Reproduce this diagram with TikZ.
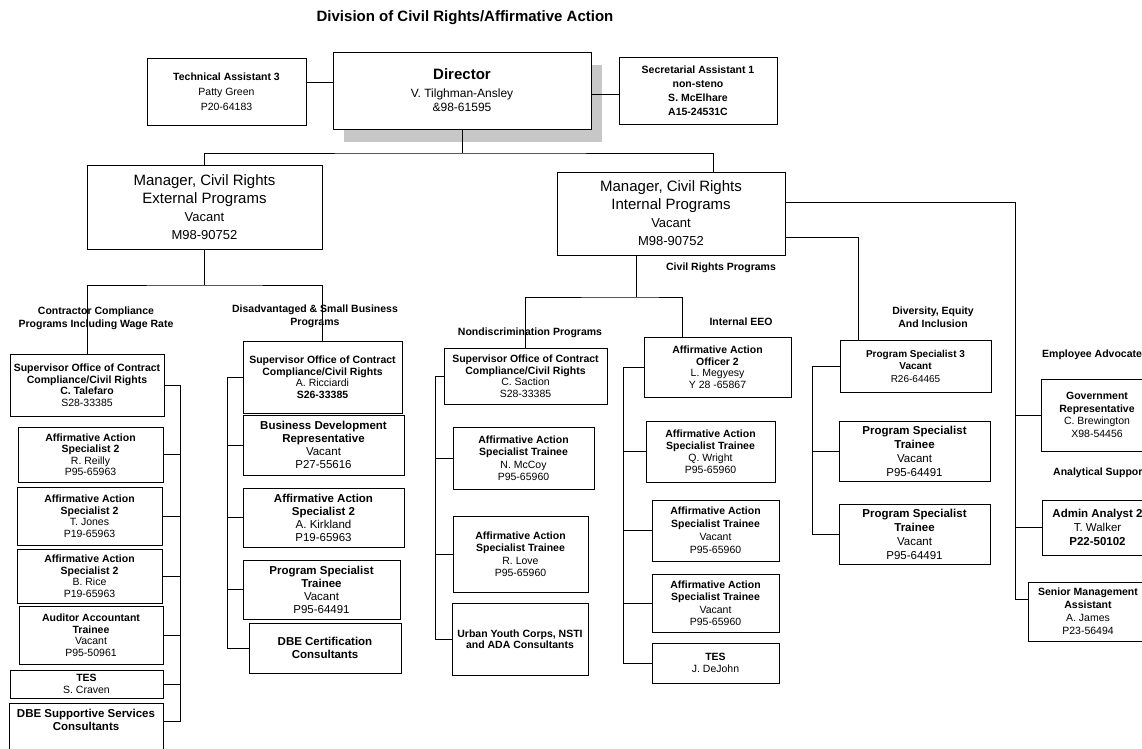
\documentclass[tikz,border=0pt]{standalone}
\usepackage{fontspec}
\setmainfont{Liberation Sans}
\usepackage{tikz}
\usetikzlibrary{positioning}
\usetikzlibrary{shapes,shadows}
\tikzstyle{block} = [rectangle, draw, fill=white, align=center, inner sep=2pt,
line width=0.9pt, font=\fontsize{10.5}{11.5}\selectfont\bfseries]
\tikzstyle{bigblock} = [block, font=\fontsize{11.5}{13}\selectfont\bfseries]
\tikzstyle{grouptitle} = [align=center, inner sep=0pt, font=\fontsize{10.5}{13}\selectfont\bfseries]
\tikzstyle{line} = [draw, line width=0.8pt]
\tikzset{boxsize/.style 2 args={minimum width=#1pt, minimum height=#2pt}}

\begin{document}
\begin{tikzpicture}[x=1pt, y=-1pt]
    \useasboundingbox (0,0) rectangle (1142,748);
    % nodes
    \node [grouptitle, font=\fontsize{15}{18}\selectfont\bfseries] (title) at (465,18) {Division of Civil Rights/Affirmative Action};
    \node [block, boxsize={159}{67}, font=\fontsize{10.5}{15}\selectfont] (tecasst) at (226.5,91.5) {\textbf{Technical Assistant 3}\\Patty Green\\P20-64183};
    \node [block, boxsize={258}{77}, font=\fontsize{12}{14}\selectfont,
      drop shadow={shadow xshift=11pt, shadow yshift=-13pt, fill=black!22, opacity=1}] (director) at (462,90.5)
      {{\fontsize{15}{17}\selectfont\bfseries Director}\\[4pt]V. Tilghman-Ansley\\\&98-61595};
    \node [block, boxsize={158}{67}, font=\fontsize{10.5}{14}\selectfont\bfseries] (secasst) at (698,90.5) {Secretarial Assistant 1\\non-steno\\S. McElhare\\A15-24531C};
    \node [block, boxsize={235}{84}, font=\fontsize{15}{18}\selectfont] (mgrext) at (204.5,207) {Manager, Civil Rights\\External Programs\\{\fontsize{13}{18}\selectfont Vacant}\\{\fontsize{13}{18}\selectfont M98-90752}};
    \node [block, boxsize={228}{83}, font=\fontsize{15}{18}\selectfont] (mgrint) at (671,213.5) {Manager, Civil Rights\\Internal Programs\\{\fontsize{13}{18}\selectfont Vacant}\\{\fontsize{13}{18}\selectfont M98-90752}};

    % group titles
    \node [grouptitle] (ccp) at (96,318) {Contractor Compliance\\Programs Including Wage Rate};
    \node [grouptitle] (dsbp) at (315,316) {Disadvantaged \& Small Business\\Programs};
    \node [grouptitle] (ndp) at (530,333) {Nondiscrimination Programs};
    \node [grouptitle] (crp) at (721,268) {Civil Rights Programs};
    \node [grouptitle] (ieeo) at (741,322) {Internal EEO};
    \node [grouptitle] (dei) at (933,317) {Diversity, Equity\\And Inclusion};
    \node [grouptitle, anchor=west] (empadv) at (1042,355) {Employee Advocate};
    \node [grouptitle, anchor=west] (analsup) at (1053,473) {Analytical Support};

    % contractor compliance
    \node [block, boxsize={154}{62}] (supcc) at (87,385) {Supervisor Office of Contract\\Compliance/Civil Rights\\C. Talefaro\\\textmd{S28-33385}};
    \node [block, boxsize={145}{55}] (reilly) at (90.5,454.5) {Affirmative Action\\Specialist 2\\\textmd{R. Reilly}\\\textmd{P95-65963}};
    \node [block, boxsize={145}{58}] (jones) at (89.5,516) {Affirmative Action\\Specialist 2\\\textmd{T. Jones}\\\textmd{P19-65963}};
    \node [block, boxsize={145}{54}] (rice) at (89.5,576) {Affirmative Action\\Specialist 2\\\textmd{B. Rice}\\\textmd{P19-65963}};
    \node [block, boxsize={144}{58}] (auditor) at (91,635) {Auditor Accountant\\Trainee\\\textmd{Vacant}\\\textmd{P95-50961}};
    \node [block, boxsize={153}{28}] (craven) at (86.5,684) {TES\\\textmd{S. Craven}};
    \node [bigblock, boxsize={154}{46}] (dbess) at (86,726) {DBE Supportive Services\\Consultants\\\mbox{}};

    % disadvantaged & small business
    \node [block, boxsize={159}{72}] (supdbe) at (322.5,377) {Supervisor Office of Contract\\Compliance/Civil Rights\\\textmd{A. Ricciardi}\\S26-33385};
    \node [bigblock, boxsize={161}{60}] (bizdev) at (323.5,445) {Business Development\\Representative\\\textmd{Vacant}\\\textmd{P27-55616}};
    \node [bigblock, boxsize={161}{59}] (kirkland) at (323.5,517.5) {Affirmative Action\\Specialist 2\\\textmd{A. Kirkland}\\\textmd{P19-65963}};
    \node [bigblock, boxsize={157}{59}] (pstdbe) at (321.5,589.5) {Program Specialist\\Trainee\\\textmd{Vacant}\\\textmd{P95-64491}};
    \node [bigblock, boxsize={152}{50}] (dbecert) at (325,648) {DBE Certification\\Consultants};

    % nondiscrimination
    \node [block, boxsize={163}{56}] (supnd) at (525.5,376) {Supervisor Office of Contract\\Compliance/Civil Rights\\\textmd{C. Saction}\\\textmd{S28-33385}};
    \node [block, boxsize={141}{62}, font=\fontsize{10.5}{12.5}\selectfont\bfseries] (mccoy) at (523.5,458) {Affirmative Action\\Specialist Trainee\\\textmd{N. McCoy}\\\textmd{P95-65960}};
    \node [block, boxsize={135}{76}, font=\fontsize{10.5}{12.5}\selectfont\bfseries] (love) at (520.5,554) {Affirmative Action\\Specialist Trainee\\\textmd{R. Love}\\\textmd{P95-65960}};
    \node [block, boxsize={136}{72}] (urban) at (520,639) {Urban Youth Corps, NSTI\\and ADA Consultants};

    % internal EEO
    \node [block, boxsize={147}{60}] (officer) at (717.5,367) {Affirmative Action\\Officer 2\\\textmd{L. Megyesy}\\\textmd{Y 28 -65867}};
    \node [block, boxsize={129}{61}, font=\fontsize{10.5}{12}\selectfont\bfseries] (wright) at (710.5,451.5) {Affirmative Action\\Specialist Trainee\\\textmd{Q. Wright}\\\textmd{P95-65960}};
    \node [block, boxsize={127}{61}, font=\fontsize{10.5}{13}\selectfont\bfseries] (aastv1) at (715.5,530.5) {Affirmative Action\\Specialist Trainee\\\textmd{Vacant}\\\textmd{P95-65960}};
    \node [block, boxsize={127}{58}, font=\fontsize{10.5}{12.5}\selectfont\bfseries] (aastv2) at (715.5,603) {Affirmative Action\\Specialist Trainee\\\textmd{Vacant}\\\textmd{P95-65960}};
    \node [block, boxsize={127}{40}] (dejohn) at (715.5,663) {TES\\\textmd{J. DeJohn}};

    % diversity, equity and inclusion
    \node [block, boxsize={151}{52}, font=\fontsize{10}{12.5}\selectfont\bfseries] (ps3) at (915.5,366) {Program Specialist 3\\Vacant\\\textmd{R26-64465}};
    \node [block, boxsize={151}{60}, font=\fontsize{11.5}{14}\selectfont\bfseries] (pst1) at (914.5,451) {Program Specialist\\Trainee\\\textmd{Vacant}\\\textmd{P95-64491}};
    \node [block, boxsize={151}{60}, font=\fontsize{11.5}{14}\selectfont\bfseries] (pst2) at (914.5,534) {Program Specialist\\Trainee\\\textmd{Vacant}\\\textmd{P95-64491}};

    % employee advocate, analytical support
    \node [block, boxsize={112}{72}, font=\fontsize{10.5}{12.5}\selectfont\bfseries] (govrep) at (1097,415) {Government\\Representative\\\textmd{C. Brewington}\\\textmd{X98-54456}};
    \node [block, boxsize={111}{55}, font=\fontsize{11.5}{14}\selectfont\bfseries] (admin) at (1097.5,527.5) {Admin Analyst 2\\\textmd{T. Walker}\\P22-50102};
    \node [block, boxsize={120}{59}, font=\fontsize{10.5}{13}\selectfont\bfseries] (sma) at (1088,611.5) {Senior Management\\Assistant\\\textmd{A. James}\\\textmd{P23-56494}};

    % junctions
    \coordinate (t1) at ([yshift=9.5pt]tecasst.east);
    \coordinate (s1) at ([yshift=-3.5pt]secasst.west);
    \coordinate (top) at (462,153);
    \coordinate (i1) at ([xshift=42pt]mgrint.north);
    \coordinate (ebus) at (204.5,285);
    \coordinate (cb) at (180,385);
    \coordinate (db) at (227,377);
    \coordinate (cr) at ([xshift=-35pt]mgrint.south);
    \coordinate (crj) at (636,297);
    \coordinate (o1) at ([xshift=-35.5pt]officer.north);
    \coordinate (nb) at (435,376);
    \coordinate (eb) at (623,367);
    \coordinate (dv0) at ([yshift=-23.5pt]mgrint.east);
    \coordinate (v0) at ([xshift=-57.5pt]ps3.north);
    \coordinate (vb) at (812,366);
    \coordinate (ea0) at ([yshift=11.5pt]mgrint.east);
    \coordinate (ab) at (1015,202);
    \coordinate (a3) at ([yshift=12.5pt]sma.west);

    % edges
    \path [line] (t1) -- (t1 -| director.west);
    \path [line] (s1) -- (s1 -| director.east);
    \path [line] (director.south) -- (top);
    \path [line] (mgrext.north) |- (top) -| (i1);
    \path [line] (mgrext.south) -- (ebus);
    \path [line] (supcc.north) |- (ebus) -| (supdbe.north);

    \path [line] (supcc.east) -- (cb);
    \path [line] (cb) |- (reilly.east);
    \path [line] (cb) |- (jones.east);
    \path [line] (cb) |- (rice.east);
    \path [line] (cb) |- (auditor.east);
    \path [line] (cb) |- (craven.east);
    \path [line] (cb) |- ([yshift=5pt]dbess.east);

    \path [line] (supdbe.west) -- (db);
    \path [line] (db) |- (bizdev.west);
    \path [line] (db) |- (kirkland.west);
    \path [line] (db) |- (pstdbe.west);
    \path [line] (db) |- (dbecert.west);

    \path [line] (cr) -- (crj);
    \path [line] (supnd.north) |- (crj) -| (o1);
    \path [line] (supnd.west) -- (nb);
    \path [line] (nb) |- (mccoy.west);
    \path [line] (nb) |- (love.west);
    \path [line] (nb) |- (urban.west);

    \path [line] (officer.west) -- (eb);
    \path [line] (eb) |- (wright.west);
    \path [line] (eb) |- (aastv1.west);
    \path [line] (eb) |- (aastv2.west);
    \path [line] (eb) |- (dejohn.west);

    \path [line] (dv0) -| (v0);
    \path [line] (ps3.west) -- (vb);
    \path [line] (vb) |- (pst1.west);
    \path [line] (vb) |- (pst2.west);

    \path [line] (ea0) -- (ab);
    \path [line] (ab) |- (govrep.west);
    \path [line] (ab) |- (admin.west);
    \path [line] (ab) |- (a3);

  \end{tikzpicture}
\end{document}
